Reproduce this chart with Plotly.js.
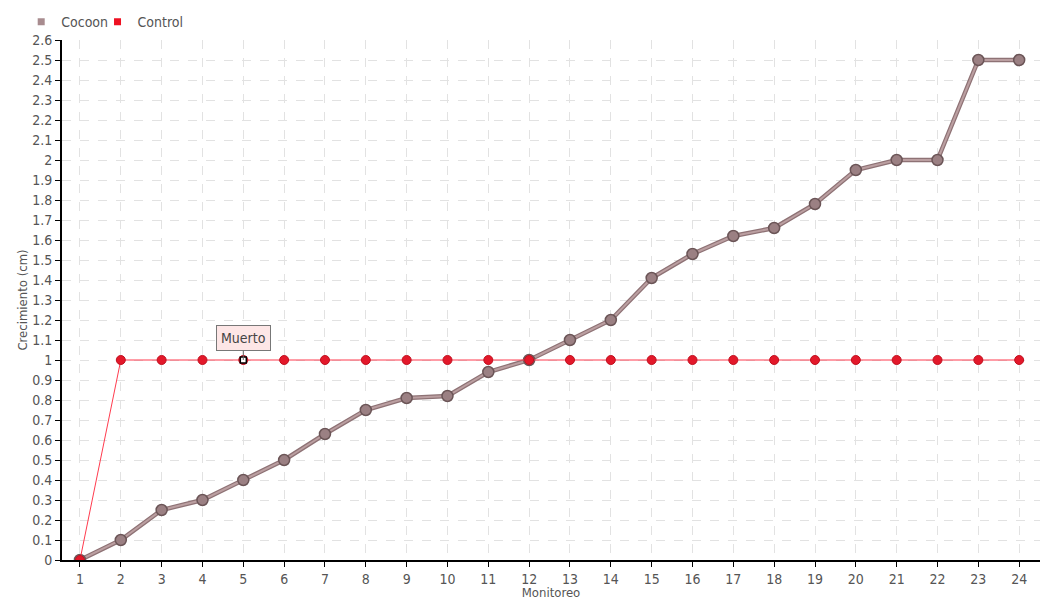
<!DOCTYPE html>
<html>
<head>
<meta charset="utf-8">
<script src="https://cdn.plot.ly/plotly-3.0.1.min.js"></script>
<style>body{margin:0;background:#fff;}#chart{width:1060px;height:600px;}</style>
</head>
<body>
<div id="chart"></div>
<script>
const monitoreo = [1,2,3,4,5,6,7,8,9,10,11,12,13,14,15,16,17,18,19,20,21,22,23,24];
const cocoon = [0,0.1,0.25,0.3,0.4,0.5,0.63,0.75,0.81,0.82,0.94,1.0,1.1,1.2,1.41,1.53,1.62,1.66,1.78,1.95,2.0,2.0,2.5,2.5];
const control = [0,1,1,1,1,1,1,1,1,1,1,1,1,1,1,1,1,1,1,1,1,1,1,1];
const deadX = [5];
const deadY = [1];
const deadLabel = "Muerto";
const yTicks = [0,0.1,0.2,0.3,0.4,0.5,0.6,0.7,0.8,0.9,1,1.1,1.2,1.3,1.4,1.5,1.6,1.7,1.8,1.9,2,2.1,2.2,2.3,2.4,2.5,2.6];

const FONT = '"DejaVu Sans Condensed", "Liberation Sans Narrow", "Roboto Condensed", sans-serif';

const traces = [
  {x: monitoreo, y: cocoon, mode: 'lines', line: {color: '#8e7275', width: 4.5}, showlegend: false, hoverinfo: 'skip', legendgroup: 'c'},
  {x: monitoreo, y: cocoon, mode: 'lines+markers', name: 'Cocoon', legendgroup: 'c', showlegend: false,
   line: {color: '#bb9fa1', width: 2},
   marker: {size: 11, color: '#9b8083', line: {color: '#6b5557', width: 1.5}}},
  {x: monitoreo, y: control, mode: 'lines+markers', name: 'Control', legendgroup: 'r', showlegend: false,
   line: {color: '#ff3b4e', width: 1},
   marker: {size: 9, color: '#e3182a', line: {color: '#c0101f', width: 1}}},
  {x: deadX, y: deadY, mode: 'markers', showlegend: false, hoverinfo: 'skip',
   marker: {symbol: 'square', size: 6, color: '#ffffff', line: {color: '#000000', width: 1.5}}},
  {x: [null], y: [null], mode: 'markers', name: 'Cocoon', legendgroup: 'c', legend: 'legend',
   marker: {symbol: 'square', size: 7, color: '#a88c8f'}},
  {x: [null], y: [null], mode: 'markers', name: 'Control', legendgroup: 'r', legend: 'legend2',
   marker: {symbol: 'square', size: 7, color: '#ee1122'}}
];

const legendBase = {orientation: 'h', xref: 'container', yref: 'container', xanchor: 'left', y: 0.963, yanchor: 'middle',
  font: {family: FONT, size: 14, color: '#555555'}, itemwidth: 30, bgcolor: 'rgba(0,0,0,0)'};

const layout = {
  width: 1060, height: 600,
  margin: {l: 62, r: 20, t: 40, b: 40},
  paper_bgcolor: '#ffffff', plot_bgcolor: '#ffffff',
  font: {family: FONT, size: 14, color: '#555555'},
  showlegend: true,
  legend: Object.assign({}, legendBase, {x: 0.02}),
  legend2: Object.assign({}, legendBase, {x: 0.092}),
  xaxis: {
    range: [0.56, 24.51], tickvals: monitoreo, ticktext: monitoreo.map(String),
    showline: true, linecolor: '#000000', linewidth: 2,
    ticks: 'outside', ticklen: 5, tickcolor: '#000000', tickwidth: 1,
    showgrid: true, gridcolor: '#e2e2e2', griddash: 'dash', gridwidth: 1,
    zeroline: false,
    tickfont: {family: FONT, size: 14, color: '#555555'},
    title: {text: 'Monitoreo', standoff: 3, font: {family: FONT, size: 13, color: '#555555'}}
  },
  yaxis: {
    range: [0, 2.6], tickvals: yTicks,
    showline: true, linecolor: '#000000', linewidth: 2,
    ticks: 'outside', ticklen: 5, tickcolor: '#000000', tickwidth: 1,
    showgrid: true, gridcolor: '#e2e2e2', griddash: 'dash', gridwidth: 1,
    zeroline: false,
    tickfont: {family: FONT, size: 14, color: '#555555'},
    title: {text: 'Crecimiento (cm)', standoff: 2, font: {family: FONT, size: 13, color: '#555555'}}
  },
  annotations: [{
    x: deadX[0], y: deadY[0], xref: 'x', yref: 'y', text: deadLabel,
    showarrow: true, arrowhead: 0, arrowwidth: 1, arrowcolor: '#666666', ax: 0, ay: -22,
    bgcolor: '#fde6e6', bordercolor: '#777777', borderwidth: 1, borderpad: 4,
    font: {family: FONT, size: 14, color: '#444444'}
  }]
};

Plotly.newPlot('chart', traces, layout, {displayModeBar: false, staticPlot: true});
</script>
</body>
</html>
